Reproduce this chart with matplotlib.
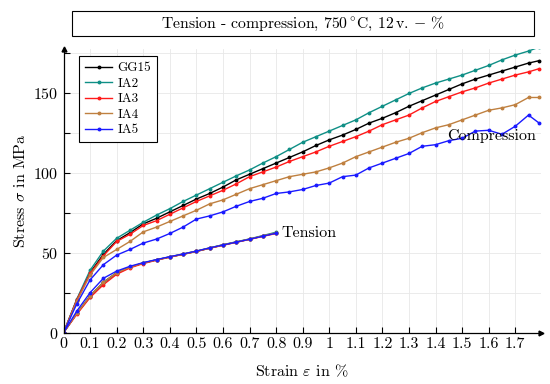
import matplotlib
matplotlib.use('Agg')
import matplotlib.pyplot as plt
from matplotlib.patches import Rectangle
import numpy as np

plt.rcParams['font.family'] = ['cmr10', 'DejaVu Serif']
plt.rcParams['mathtext.fontset'] = 'cm'
plt.rcParams['axes.formatter.use_mathtext'] = True

# compression curves (strain in %, stress in MPa)
strain_c = [0, 0.05, 0.1, 0.15, 0.2, 0.25, 0.3, 0.35, 0.4, 0.45, 0.5, 0.55, 0.6, 0.65,
            0.7, 0.75, 0.8, 0.85, 0.9, 0.95, 1.0, 1.05, 1.1, 1.15, 1.2, 1.25, 1.3, 1.35,
            1.4, 1.45, 1.5, 1.55, 1.6, 1.65, 1.7, 1.75, 1.79]
gg15_c = [0, 20.5, 37.5, 49, 57.5, 62.5, 68, 71.5, 75.5, 79.5, 83.5, 87, 91, 95.5,
          99, 102.5, 106, 109.5, 113, 117, 120.5, 123.5, 127, 131, 134, 137.5, 141.5, 145,
          148.5, 152, 155.5, 158.5, 161, 163.5, 166, 168.5, 170]
ia2_c = [0, 21, 39, 51, 59, 64, 69, 73.5, 77.5, 82, 86, 90, 94, 98,
         101.7, 106, 110, 114.5, 119, 122.5, 126, 129.5, 133, 137.5, 141.5, 145.5, 149.5, 153,
         156, 158.5, 161, 164, 167, 170.5, 173.5, 176, 178.5]
ia3_c = [0, 20.5, 37, 48, 57, 61.5, 67, 70, 74, 78, 82, 85.5, 89, 93,
         97.5, 100.5, 103.5, 107, 110, 113, 116.5, 119.5, 122.5, 126, 130, 133, 136, 140.5,
         144.5, 147.5, 150.5, 153, 156, 158.5, 161, 163, 165]
ia4_c = [0, 19.5, 36, 47, 52, 57, 63, 66, 69.5, 73, 76.5, 80.5, 83, 86.5,
         90, 92.5, 95, 97.5, 99, 100.5, 103, 106, 110, 113, 116, 119, 121.5, 125,
         128, 130, 133, 136, 139, 140.5, 142.5, 147, 147]
ia5_c = [0, 18, 33, 42.5, 48.5, 52, 56, 58.5, 62, 66, 71, 73, 75.5, 79,
         82, 84, 87, 88, 89.5, 92, 93.5, 97.5, 98.5, 103, 106, 109, 112, 116.5,
         117.5, 120, 121.5, 126, 126.5, 124, 129, 136, 131]

# tension curves
strain_t = [0, 0.05, 0.1, 0.15, 0.2, 0.25, 0.3, 0.35, 0.4, 0.45, 0.5, 0.55, 0.6,
            0.65, 0.7, 0.75, 0.8]
gg15_t = [0, 12, 23, 31.5, 37.5, 41, 43.5, 45.5, 47.3, 49, 50.8, 52.8, 54.8, 56.6, 58.4, 60.4, 62.3]
ia2_t = [0, 12, 22.5, 31, 37, 41, 43.5, 45.6, 47.4, 49.2, 51, 53, 55, 56.8, 58.6, 60.7, 62.8]
ia3_t = [0, 11.5, 22, 30, 36.5, 40.5, 43.2, 45.3, 47.2, 49, 50.8, 52.8, 54.6, 56.5, 58.3, 60.2, 62]
ia4_t = [0, 12, 23, 31.5, 37.5, 41, 43.6, 45.5, 47.4, 49.1, 50.9, 52.9, 54.9, 56.7, 58.5, 60.5, 62.4]
ia5_t = [0, 13.5, 25, 34, 38.5, 41.5, 43.8, 45.7, 47.5, 49.2, 51, 53, 54.8, 56.6, 58.4, 60.3, 62.2]

names = ['GG15', 'IA2', 'IA3', 'IA4', 'IA5']
colors = ['black', '#0f8f86', '#ff1a1a', '#bf8040', '#1a1aff']
comp = [gg15_c, ia2_c, ia3_c, ia4_c, ia5_c]
tens = [gg15_t, ia2_t, ia3_t, ia4_t, ia5_t]

fig = plt.figure(figsize=(5.5, 3.84), dpi=100)
ax = fig.add_axes([63.5/550, 1-332.7/384, 477.5/550, 283.7/384])

for name, c, yc, yt in zip(names, colors, comp, tens):
    ax.plot(strain_c, yc, color=c, lw=1.0, marker='o', ms=1.8, label=name)
    ax.plot(strain_t, yt, color=c, lw=1.0, marker='o', ms=1.8)

ax.set_xlim(0, 1.797)
ax.set_ylim(0, 177.3)
ax.set_xticks(np.round(np.arange(0, 1.75, 0.1), 1))
ax.set_xticklabels(['%g' % v for v in np.round(np.arange(0, 1.75, 0.1), 1)])
ax.set_yticks([0, 50, 100, 150])
ax.set_yticks([25, 75, 125, 175], minor=True)
ax.tick_params(which='both', direction='in', length=4, width=0.8, labelsize=11.5)
ax.tick_params(axis='x', pad=3)
ax.grid(which='both', color='#e8e8e8', lw=0.6)
ax.set_axisbelow(True)

for s in ['top', 'right']:
    ax.spines[s].set_visible(False)
for s in ['left', 'bottom']:
    ax.spines[s].set_linewidth(0.9)
ax.plot(1, 0, '>k', ms=3.5, transform=ax.get_yaxis_transform(), clip_on=False)
ax.plot(0, 1, '^k', ms=3.5, transform=ax.get_xaxis_transform(), clip_on=False)

ax.set_xlabel(r'Strain $\varepsilon$ in %', fontsize=11.5, labelpad=9)
ax.set_ylabel(r'Stress $\sigma$ in MPa', fontsize=11.5, labelpad=4)

ax.text(0.82, 62, 'Tension', fontsize=11.5, va='center', ha='left')
ax.text(1.78, 123, 'Compression', fontsize=11.5, va='center', ha='right')

leg = ax.legend(loc='upper left', bbox_to_anchor=(0.032, 0.975), borderaxespad=0,
                fontsize=9.5, numpoints=1, fancybox=False, framealpha=1,
                edgecolor='black', handlelength=2.1, labelspacing=0.25,
                handletextpad=0.4, borderpad=0.45)
leg.get_frame().set_linewidth(0.8)

fig.patches.append(Rectangle((72/550, 1-36/384), 462/550, 25/384, transform=fig.transFigure,
                             fill=False, edgecolor='black', lw=0.8))
fig.text(303/550, 1-23.5/384, r'Tension - compression, 750$\,^{\circ}$C, 12$\,$v. $-$ %',
         ha='center', va='center', fontsize=11.3)

fig.savefig('out.png', dpi=100)
